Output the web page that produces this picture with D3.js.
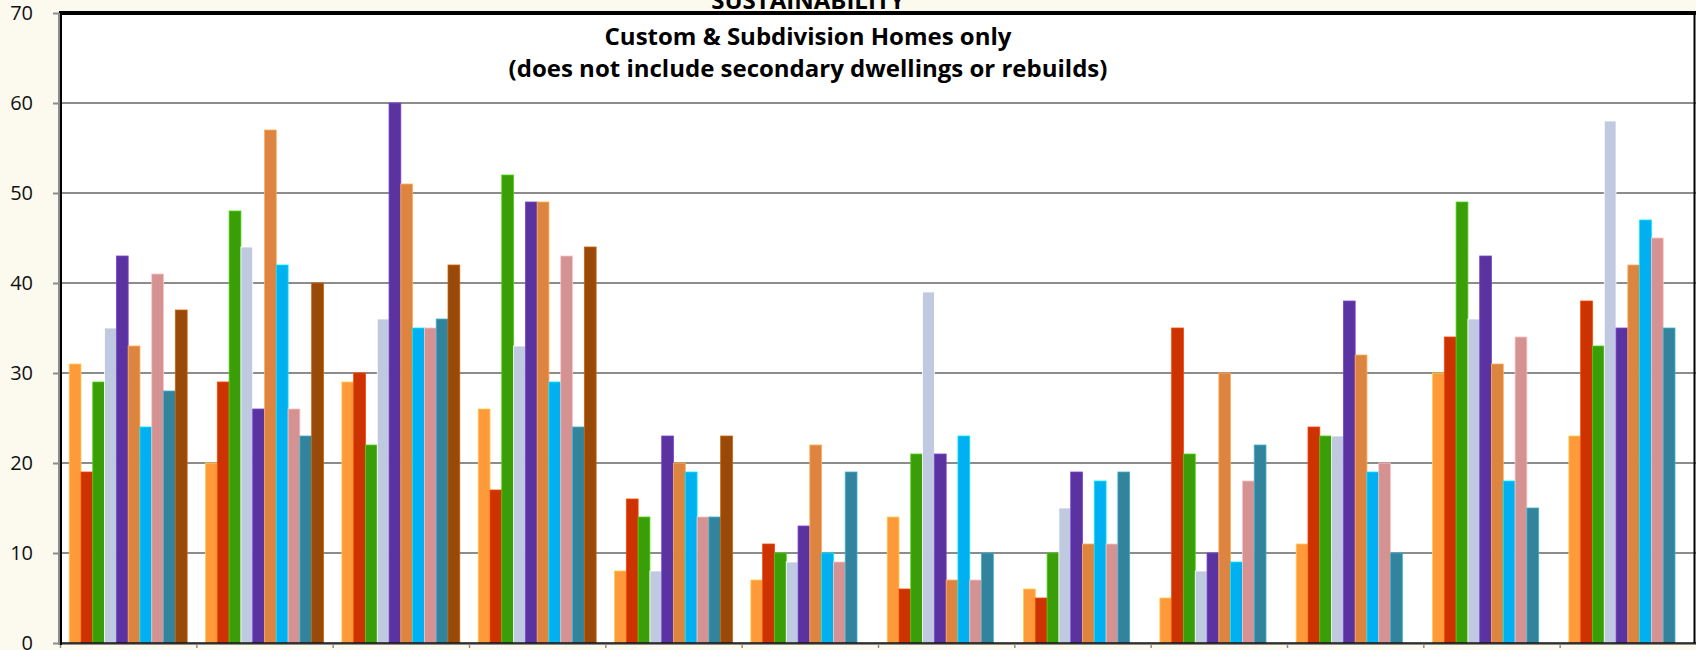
<!DOCTYPE html>
<meta charset="utf-8">
<head>
  <title>Sustainability - Custom & Subdivision Homes</title>
</head>
<style>
  html, body {
    margin: 0;
    padding: 0;
    overflow: hidden;
    background: #fcfaef;
  }
  svg text {
    font-family: "Open Sans", "Noto Sans", Arial, sans-serif;
  }
</style>
<body>
<script src="https://cdnjs.cloudflare.com/ajax/libs/d3/7.8.5/d3.min.js"></script>
<script>
// one group per month, one bar per year
var categories = ['Jan', 'Feb', 'Mar', 'Apr', 'May', 'Jun', 'Jul', 'Aug', 'Sep', 'Oct', 'Nov', 'Dec'];
var seriesNames = ['S1', 'S2', 'S3', 'S4', 'S5', 'S6', 'S7', 'S8', 'S9', 'S10'];
var seriesColors = ['#ff9a3a', '#cc3300', '#3a9e08', '#bfc9e0', '#5a33a0', '#dd8440', '#00b0f0', '#d49292', '#31849b', '#994a08'];

var s1  = [31, 20, 29, 26,  8,  7, 14,  6,  5, 11, 30, 23];
var s2  = [19, 29, 30, 17, 16, 11,  6,  5, 35, 24, 34, 38];
var s3  = [29, 48, 22, 52, 14, 10, 21, 10, 21, 23, 49, 33];
var s4  = [35, 44, 36, 33,  8,  9, 39, 15,  8, 23, 36, 58];
var s5  = [43, 26, 60, 49, 23, 13, 21, 19, 10, 38, 43, 35];
var s6  = [33, 57, 51, 49, 20, 22,  7, 11, 30, 32, 31, 42];
var s7  = [24, 42, 35, 29, 19, 10, 23, 18,  9, 19, 18, 47];
var s8  = [41, 26, 35, 43, 14,  9,  7, 11, 18, 20, 34, 45];
var s9  = [28, 23, 36, 24, 14, 19, 10, 19, 22, 10, 15, 35];
var s10 = [37, 40, 42, 44, 23, null, null, null, null, null, null, null];

var yTicks = [0, 10, 20, 30, 40, 50, 60, 70];
var titleLines = ['Custom & Subdivision Homes only', '(does not include secondary dwellings or rebuilds)'];

var allSeries = [s1, s2, s3, s4, s5, s6, s7, s8, s9, s10];

var W = 1696, H = 650;
var margin = {left: 60, right: 0, top: 13, bottom: 7};

var svg = d3.select('body').append('svg')
  .attr('width', W)
  .attr('height', H);

var x0 = d3.scaleBand()
  .domain(categories)
  .range([margin.left, W - margin.right]);

var x1 = d3.scaleBand()
  .domain(seriesNames)
  .range([0, x0.bandwidth()])
  .paddingOuter(0.78);

var y = d3.scaleLinear()
  .domain([0, 70])
  .range([H - margin.bottom, margin.top]);

// plot area
svg.append('rect')
  .attr('x', margin.left)
  .attr('y', margin.top)
  .attr('width', W - margin.left - margin.right)
  .attr('height', y(0) - margin.top)
  .attr('fill', '#ffffff');

// gridlines
svg.append('g')
  .selectAll('line')
  .data(yTicks.filter(function(t) { return t > 0 && t < 70; }))
  .enter().append('line')
  .attr('x1', margin.left)
  .attr('x2', W - margin.right)
  .attr('y1', function(d) { return y(d); })
  .attr('y2', function(d) { return y(d); })
  .attr('stroke', '#8c8c8c')
  .attr('stroke-width', 2);

// bars
var rows = categories.map(function(c, i) {
  return seriesNames.map(function(s, j) {
    return {cat: c, series: s, value: allSeries[j][i], color: seriesColors[j]};
  }).filter(function(d) { return d.value != null; });
});

var groups = svg.append('g').selectAll('g')
  .data(rows)
  .enter().append('g')
  .attr('transform', function(d, i) { return 'translate(' + x0(categories[i]) + ',0)'; });

groups.selectAll('rect')
  .data(function(d) { return d; })
  .enter().append('rect')
  .attr('x', function(d) { return x1(d.series); })
  .attr('width', x1.bandwidth())
  .attr('y', function(d) { return y(d.value); })
  .attr('height', function(d) { return y(0) - y(d.value); })
  .attr('fill', function(d) { return d.color; })
  .attr('stroke', function(d) { return d3.color(d.color).brighter(0.8); })
  .attr('stroke-width', 0.8);

// y axis
var yAxis = d3.axisLeft(y)
  .tickValues(yTicks)
  .tickSize(7)
  .tickPadding(20);

var ya = svg.append('g')
  .attr('transform', 'translate(' + margin.left + ',0)')
  .call(yAxis);
ya.select('.domain').remove();
ya.selectAll('line').attr('stroke', '#8c8c8c').attr('stroke-width', 2);
ya.selectAll('text')
  .attr('font-size', 20)
  .attr('fill', '#111')
  .style('font-family', '"Open Sans", sans-serif');

// x axis, category boundary ticks only
var xa = svg.append('g')
  .selectAll('line')
  .data(categories)
  .enter().append('line')
  .attr('x1', function(d) { return x0(d) + 0.5; })
  .attr('x2', function(d) { return x0(d) + 0.5; })
  .attr('y1', y(0))
  .attr('y2', y(0) + 5)
  .attr('stroke', '#8c8c8c')
  .attr('stroke-width', 1.5);

// frame
svg.append('line')
  .attr('x1', margin.left).attr('x2', W - margin.right)
  .attr('y1', y(0) + 1).attr('y2', y(0) + 1)
  .attr('stroke', '#8c8c8c').attr('stroke-width', 2);
svg.append('line')
  .attr('x1', margin.left).attr('x2', W - margin.right)
  .attr('y1', y(0)).attr('y2', y(0))
  .attr('stroke', '#111').attr('stroke-width', 1.5);
svg.append('line')
  .attr('x1', margin.left - 1).attr('x2', W)
  .attr('y1', margin.top).attr('y2', margin.top)
  .attr('stroke', '#000').attr('stroke-width', 4);
svg.append('line')
  .attr('x1', margin.left - 1).attr('x2', margin.left - 1)
  .attr('y1', margin.top).attr('y2', y(0) + 2)
  .attr('stroke', '#8c8c8c').attr('stroke-width', 2);
svg.append('line')
  .attr('x1', margin.left + 1).attr('x2', margin.left + 1)
  .attr('y1', margin.top).attr('y2', y(0) + 2)
  .attr('stroke', '#000').attr('stroke-width', 2);
svg.append('line')
  .attr('x1', W - 1.5).attr('x2', W - 1.5)
  .attr('y1', margin.top).attr('y2', y(0))
  .attr('stroke', '#000').attr('stroke-width', 2);

// titles
var cx = 808;
svg.append('text')
  .attr('x', cx)
  .attr('y', 9)
  .attr('text-anchor', 'middle')
  .attr('font-size', 24)
  .attr('font-weight', 'bold')
  .text('SUSTAINABILITY');

svg.selectAll('text.sub')
  .data(titleLines)
  .enter().append('text')
  .attr('class', 'sub')
  .attr('x', cx)
  .attr('y', function(d, i) { return 45 + i * 32; })
  .attr('text-anchor', 'middle')
  .attr('font-size', 24)
  .attr('font-weight', 'bold')
  .text(function(d) { return d; });
</script>
</body>
